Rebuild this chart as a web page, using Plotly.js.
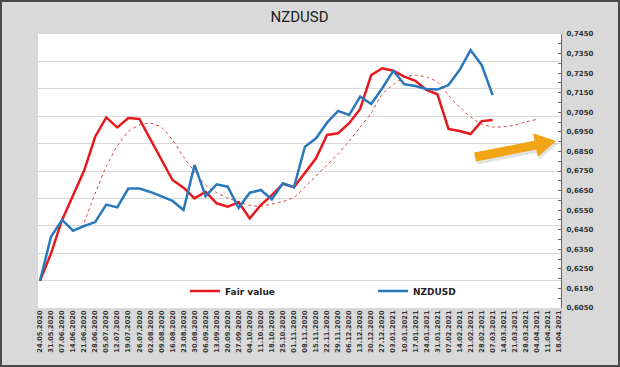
<!DOCTYPE html>
<html><head><meta charset="utf-8">
<script src="https://cdn.plot.ly/plotly-3.0.1.min.js"></script>
<style>
html,body{margin:0;padding:0;background:#d9d9d9;}
#wrap{position:relative;width:620px;height:367px;}
#chart{width:620px;height:367px;}
#frame{position:absolute;left:0;top:0;width:620px;height:367px;box-sizing:border-box;border:2px solid #4a4a4a;pointer-events:none;}
</style>
</head><body>
<div id="wrap"><div id="chart"></div><div id="frame"></div></div>
<script>
const weeks = ["24.05.2020","31.05.2020","07.06.2020","14.06.2020","21.06.2020","28.06.2020","05.07.2020","12.07.2020","19.07.2020","26.07.2020","02.08.2020","09.08.2020","16.08.2020","23.08.2020","30.08.2020","06.09.2020","13.09.2020","20.09.2020","27.09.2020","04.10.2020","11.10.2020","18.10.2020","25.10.2020","01.11.2020","08.11.2020","15.11.2020","22.11.2020","29.11.2020","06.12.2020","13.12.2020","20.12.2020","27.12.2020","03.01.2021","10.01.2021","17.01.2021","24.01.2021","31.01.2021","07.02.2021","14.02.2021","21.02.2021","28.02.2021","07.03.2021","14.03.2021","21.03.2021","28.03.2021","04.04.2021","11.04.2021","18.04.2021"];

const fairValue = [0.6189,0.6329,0.6500,0.6622,0.6752,0.6925,0.7024,0.6973,0.7021,0.7016,
  0.6912,0.6808,0.6704,0.6665,0.6610,0.6644,0.6585,0.6568,0.6590,0.6508,
  0.6576,0.6627,0.6684,0.6667,0.6738,0.6815,0.6934,0.6943,0.6994,0.7067,
  0.7240,0.7275,0.7262,0.7232,0.7211,0.7164,0.7142,0.6965,0.6954,0.6939,
  0.7005,0.7011];

const nzdusd = [0.6189,0.6414,0.6500,0.6445,0.6469,0.6489,0.6578,0.6564,0.6660,0.6660,
  0.6643,0.6620,0.6597,0.6551,0.6781,0.6622,0.6682,0.6670,0.6562,0.6639,
  0.6653,0.6605,0.6687,0.6667,0.6874,0.6917,0.6997,0.7057,0.7036,0.7130,
  0.7092,0.7173,0.7262,0.7193,0.7184,0.7169,0.7166,0.7189,0.7266,0.7368,
  0.7292,0.7138];

const fairTrend = [null,null,null,null,0.6486,0.6636,0.6772,0.6878,0.6951,0.6985,
  0.6994,0.6973,0.6908,0.6823,0.6746,0.6678,0.6640,0.6612,0.6592,0.6574,
  0.6569,0.6581,0.6594,0.6615,0.6668,0.6724,0.6781,0.6837,0.6903,0.6975,
  0.7046,0.7143,0.7192,0.7228,0.7240,0.7230,0.7205,0.7136,0.7077,0.7026,
  0.6990,0.6975,0.6976,0.6985,0.7000,0.7014];

const seriesNames = ["Fair value","NZDUSD"];
const chartTitle = "NZDUSD";

// layout geometry (pixels)
const M = {l:38, r:59, t:34, b:59};
const W = 620, H = 367;
const pw = W - M.l - M.r, ph = H - M.t - M.b;
const px = x => (x - M.l) / pw;
const py = y => (H - M.b - y) / ph;

// arrow shape path (decoration)
function arrowPath(tx, ty, hx, hy, sw, hw, hl, dx, dy) {
  dx = dx || 0; dy = dy || 0;
  const L = Math.hypot(hx - tx, hy - ty);
  const ux = (hx - tx) / L, uy = (hy - ty) / L;
  const nx = -uy, ny = ux;
  const bx = hx - hl * ux, by = hy - hl * uy;
  const pts = [
    [tx + sw*nx, ty + sw*ny], [bx + sw*nx, by + sw*ny], [bx + hw*nx, by + hw*ny],
    [hx, hy], [bx - hw*nx, by - hw*ny], [bx - sw*nx, by - sw*ny], [tx - sw*nx, ty - sw*ny]
  ];
  return 'M' + pts.map(p => px(p[0]+dx).toFixed(5) + ',' + py(p[1]+dy).toFixed(5)).join(' L') + ' Z';
}

const traces = [
  {x: weeks.slice(0, fairTrend.length), y: fairTrend, type: 'scatter', mode: 'lines',
   line: {color: '#cf4a46', width: 1, dash: 'dot', shape: 'spline', smoothing: 0.6},
   showlegend: false, hoverinfo: 'skip', connectgaps: false},
  {x: weeks.slice(0, fairValue.length), y: fairValue, type: 'scatter', mode: 'lines',
   name: seriesNames[0], line: {color: '#e5191e', width: 2.5}},
  {x: weeks.slice(0, nzdusd.length), y: nzdusd, type: 'scatter', mode: 'lines',
   name: seriesNames[1], line: {color: '#2a78bc', width: 2.5}}
];

const layout = {
  width: W, height: H,
  margin: M,
  paper_bgcolor: '#d9d9d9',
  plot_bgcolor: '#ffffff',
  separators: ', ',
  title: {text: chartTitle, x: (M.l + pw/2) / W, xanchor: 'center', y: 1 - 17/H, yanchor: 'middle',
          font: {family: 'Roboto, sans-serif', size: 15, color: '#222222'}},
  xaxis: {
    type: 'category', categoryorder: 'array', categoryarray: weeks,
    range: [-0.18, 47.19], tickangle: -90, showgrid: false, zeroline: false,
    showline: false, ticks: '', tickmode: 'array', tickvals: weeks, ticktext: weeks,
    tickfont: {family: 'DejaVu Sans, sans-serif', size: 6.7, color: '#333333', weight: 'bold'}
  },
  yaxis: {
    side: 'right', range: [0.605 - 1e-6, 0.745 + 1e-6], tick0: 0.605, dtick: 0.01,
    tickformat: '.4f', showgrid: false, zeroline: false,
    showline: true, linecolor: '#7a5f5f', linewidth: 1,
    ticks: 'inside', ticklen: 3, tickcolor: '#7a5f5f', ticklabelstandoff: 3,
    minor: {dtick: 0.005, tick0: 0.605, ticks: 'inside', ticklen: 3, tickcolor: '#7a5f5f', showgrid: false},
    tickfont: {family: 'DejaVu Sans, sans-serif', size: 7, color: '#333333', weight: 'bold'}
  },
  yaxis2: {
    overlaying: 'y', side: 'left', range: [0.605, 0.745], tick0: 0.605, dtick: 0.014,
    showgrid: true, gridcolor: '#d9d9d9', gridwidth: 1, zeroline: false,
    showticklabels: false, ticks: '', showline: false
  },
  legend: {
    orientation: 'h', x: px(185), xanchor: 'left', y: py(291), yanchor: 'middle',
    bgcolor: 'rgba(0,0,0,0)', entrywidth: 143, entrywidthmode: 'pixels',
    font: {family: 'DejaVu Sans, sans-serif', size: 9, color: '#222222', weight: 'bold'}
  },
  shapes: [
    {type: 'path', xref: 'paper', yref: 'paper', path: arrowPath(475, 157, 556, 141, 4.5, 12, 21, 1.5, 3),
     fillcolor: 'rgba(90,90,90,0.18)', line: {width: 0}},
    {type: 'path', xref: 'paper', yref: 'paper', path: arrowPath(475, 157, 556, 141, 4.5, 12, 21),
     fillcolor: '#f2a516', line: {width: 0}}
  ],
  showlegend: true
};

// empty helper trace so yaxis2 (gridlines) is drawn
traces.push({x: [weeks[0]], y: [null], yaxis: 'y2', type: 'scatter', mode: 'lines', showlegend: false, hoverinfo: 'skip'});

Plotly.newPlot('chart', traces, layout, {displayModeBar: false, staticPlot: true});
</script>
</body></html>
